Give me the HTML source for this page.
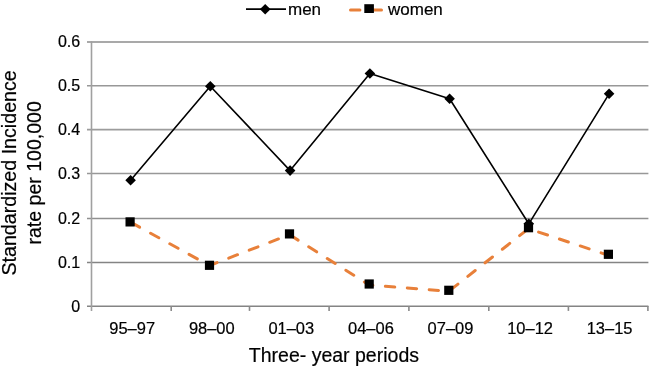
<!DOCTYPE html>
<html><head><meta charset="utf-8">
<style>
html,body{margin:0;padding:0;background:#fff;}
body{width:650px;height:367px;overflow:hidden;}
svg{display:block;will-change:transform;}
text{font-family:"Liberation Sans",sans-serif;fill:#000;stroke:#000;stroke-width:0.2px;}
</style></head>
<body>
<svg width="650" height="367" viewBox="0 0 650 367">
<g stroke="#848484" stroke-width="1.6" fill="none">
<line x1="87" y1="42" x2="648.4" y2="42" stroke="#8c8c8c"/>
<line x1="87" y1="85.8" x2="648.4" y2="85.8" stroke="#989898"/>
<line x1="87" y1="129.6" x2="648.4" y2="129.6" stroke="#9c9c9c"/>
<line x1="87" y1="173.45" x2="648.4" y2="173.45" stroke="#989898"/>
<line x1="87" y1="218.5" x2="648.4" y2="218.5" stroke="#909090"/>
<line x1="87" y1="262.5" x2="648.4" y2="262.5" stroke="#848484"/>
<line x1="87" y1="306.2" x2="648.4" y2="306.2" stroke="#848484"/>
<line x1="91.5" y1="41.2" x2="91.5" y2="311" stroke="#a0a0a0"/>
<line x1="171.2" y1="306" x2="171.2" y2="310.9" stroke="#8a8a8a"/>
<line x1="249.5" y1="306" x2="249.5" y2="310.9" stroke="#8a8a8a"/>
<line x1="329.1" y1="306" x2="329.1" y2="310.9" stroke="#8a8a8a"/>
<line x1="408.9" y1="306" x2="408.9" y2="310.9" stroke="#8a8a8a"/>
<line x1="488.8" y1="306" x2="488.8" y2="310.9" stroke="#8a8a8a"/>
<line x1="568.4" y1="306" x2="568.4" y2="310.9" stroke="#8a8a8a"/>
<line x1="647.9" y1="306" x2="647.9" y2="310.9" stroke="#8a8a8a"/>
</g>
<g font-size="16" text-anchor="end">
<text x="80.2" y="47.10">0.6</text>
<text x="80.2" y="90.65">0.5</text>
<text x="80.2" y="135.20">0.4</text>
<text x="80.2" y="179.10">0.3</text>
<text x="80.2" y="224.10">0.2</text>
<text x="80.2" y="267.60">0.1</text>
<text x="80.2" y="312.00">0</text>
</g>
<g font-size="16" text-anchor="middle">
<text x="132.2" y="333.5" textLength="45.8" lengthAdjust="spacingAndGlyphs">95–97</text>
<text x="211.8" y="333.5" textLength="45.8" lengthAdjust="spacingAndGlyphs">98–00</text>
<text x="291.3" y="333.5" textLength="45.8" lengthAdjust="spacingAndGlyphs">01–03</text>
<text x="370.9" y="333.5" textLength="45.8" lengthAdjust="spacingAndGlyphs">04–06</text>
<text x="450.5" y="333.5" textLength="45.8" lengthAdjust="spacingAndGlyphs">07–09</text>
<text x="530.1" y="333.5" textLength="45.8" lengthAdjust="spacingAndGlyphs">10–12</text>
<text x="609.6" y="333.5" textLength="45.8" lengthAdjust="spacingAndGlyphs">13–15</text>
</g>
<text x="333.9" y="362.3" font-size="19.5" text-anchor="middle">Three- year periods</text>
<g transform="translate(16.3,172.9) rotate(-90)" font-size="19.3" text-anchor="middle">
<text x="0" y="0" textLength="205.3" lengthAdjust="spacingAndGlyphs">Standardized Incidence</text>
<text x="0" y="24.5" textLength="143.3" lengthAdjust="spacingAndGlyphs">rate per 100,000</text>
</g>
<polyline fill="none" stroke="#e8803a" stroke-width="3" stroke-dasharray="9.4 12.55" stroke-dashoffset="-1.4" stroke-linecap="round" points="130.1,222.0 209.5,265.5 289.5,234.7 369.2,285.0 448.8,291.3 528.5,228.7 608.4,255.3"/>
<polyline fill="none" stroke="#000" stroke-width="1.6" stroke-linejoin="round" points="130.6,180.3 210.3,86.2 290.1,170.6 369.9,73.5 449.6,98.7 528.8,223.8 609.1,93.8"/>
<g fill="#000">
<rect x="125.50" y="217.30" width="9.2" height="9.2"/>
<rect x="204.90" y="260.70" width="9.2" height="9.2"/>
<rect x="284.90" y="229.30" width="9.2" height="9.2"/>
<rect x="364.60" y="279.40" width="9.2" height="9.2"/>
<rect x="444.20" y="285.70" width="9.2" height="9.2"/>
<rect x="523.90" y="223.10" width="9.2" height="9.2"/>
<rect x="603.80" y="249.70" width="9.2" height="9.2"/>
<path d="M130.60,175.00 l5.3,5.3 l-5.3,5.3 l-5.3,-5.3 z"/>
<path d="M210.30,80.90 l5.3,5.3 l-5.3,5.3 l-5.3,-5.3 z"/>
<path d="M290.10,165.30 l5.3,5.3 l-5.3,5.3 l-5.3,-5.3 z"/>
<path d="M369.90,68.20 l5.3,5.3 l-5.3,5.3 l-5.3,-5.3 z"/>
<path d="M449.60,93.40 l5.3,5.3 l-5.3,5.3 l-5.3,-5.3 z"/>
<path d="M528.80,218.50 l5.3,5.3 l-5.3,5.3 l-5.3,-5.3 z"/>
<path d="M609.10,88.50 l5.3,5.3 l-5.3,5.3 l-5.3,-5.3 z"/>
</g>
<line x1="246" y1="9.1" x2="286" y2="9.1" stroke="#000" stroke-width="1.6"/>
<path d="M265.2,3.90 l5.3,5.3 l-5.3,5.3 l-5.3,-5.3 z" fill="#000"/>
<text x="288" y="14.6" font-size="17">men</text>
<line x1="350.5" y1="10" x2="381.5" y2="10" stroke="#e8803a" stroke-width="3" stroke-dasharray="9.4 12.55" stroke-linecap="round"/>
<rect x="364.3" y="4.2" width="9.6" height="8.8" fill="#000"/>
<text x="388" y="14.6" font-size="17">women</text>
</svg>
</body></html>
